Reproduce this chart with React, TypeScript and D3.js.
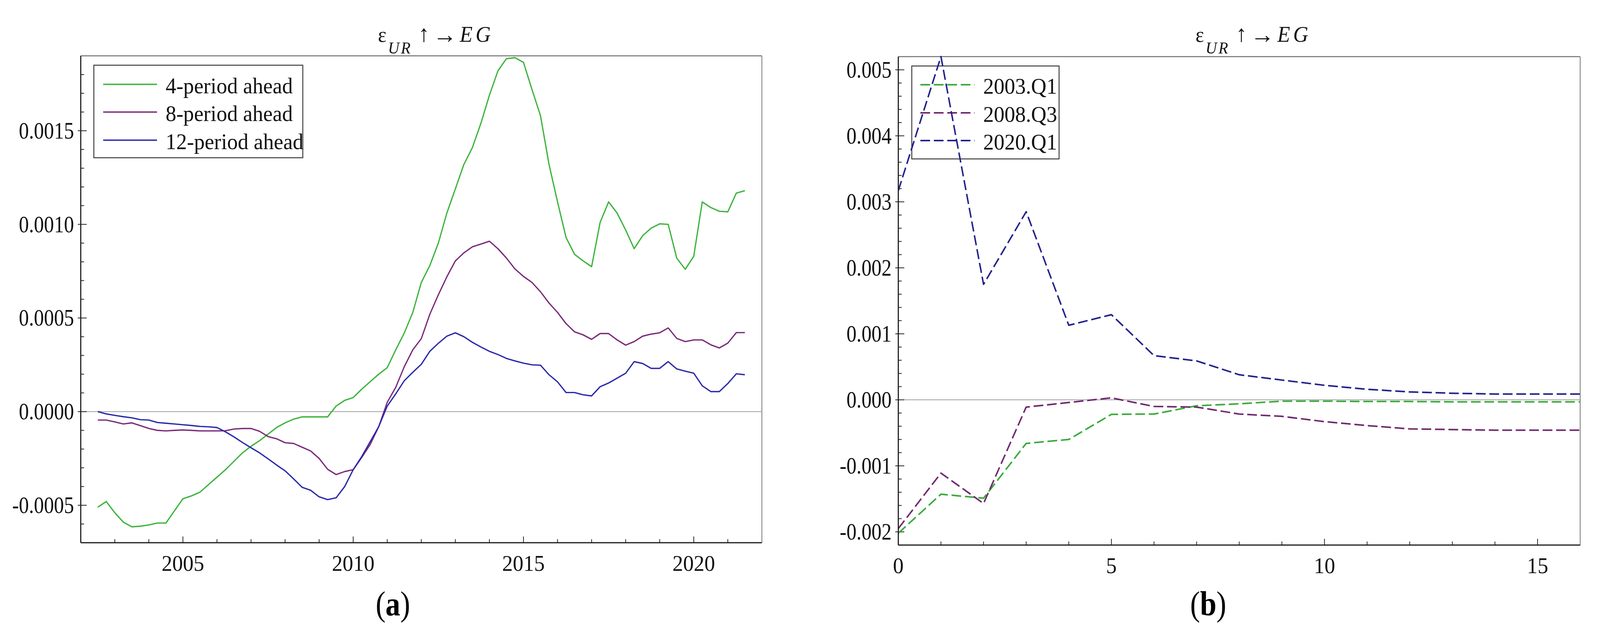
import React from 'react';
import * as d3 from 'd3';

// ---------- Panel (a) data: quarterly, 2002Q3 .. 2021Q3 ----------
const quarters: number[] = d3.range(0, 77).map((i) => 2002.5 + i * 0.25);

const ahead4: number[] = [
  -0.00051, -0.00048,
  -0.00054, -0.00059, -0.000615, -0.000612,
  -0.000605, -0.000595, -0.000595, -0.00053,
  -0.000465, -0.00045, -0.00043, -0.00039,
  -0.00035, -0.00031, -0.000265, -0.00022,
  -0.000185, -0.000155, -0.00012, -0.000085,
  -0.00006, -0.00004, -0.000028, -0.000028,
  -0.000028, -0.000028, 0.00003, 0.00006,
  0.000075, 0.00012, 0.00016, 0.0002,
  0.000235, 0.00033, 0.00042, 0.00053,
  0.00069, 0.00078, 0.0009, 0.00106,
  0.00119, 0.00132, 0.00141, 0.00154,
  0.00169, 0.00182, 0.001885, 0.00189,
  0.001865, 0.00172, 0.00158, 0.00132,
  0.00112, 0.00093, 0.00084, 0.000805,
  0.000774, 0.00101, 0.00112, 0.00106,
  0.00097, 0.00087, 0.00094, 0.00098,
  0.001003, 0.001, 0.00082, 0.00076,
  0.00083, 0.00112, 0.00109, 0.00107,
  0.001067, 0.001167, 0.00118,
];

const ahead8: number[] = [
  -0.000045, -0.000045,
  -0.000055, -0.000066, -0.00006, -0.000075,
  -0.00009, -0.0001, -0.000103, -0.0001,
  -0.000098, -0.0001, -0.000103, -0.000103,
  -0.000103, -0.000102, -0.000093, -0.00009,
  -0.00009, -0.000105, -0.000133, -0.000145,
  -0.000166, -0.00017, -0.00019, -0.00021,
  -0.00025, -0.000308, -0.000336, -0.00032,
  -0.00031, -0.000245, -0.000175, -0.00008,
  0.00005, 0.00013, 0.00024, 0.00033,
  0.00039, 0.00052, 0.000624, 0.00072,
  0.000805, 0.000848, 0.00088, 0.000895,
  0.00091, 0.00087, 0.00082, 0.000762,
  0.000722, 0.00069, 0.00064, 0.00058,
  0.00053, 0.00047, 0.000426, 0.00041,
  0.000386, 0.000417, 0.000417, 0.000383,
  0.000355, 0.000374, 0.000403, 0.000414,
  0.000421, 0.000447, 0.000391, 0.000374,
  0.000383, 0.000383, 0.000357, 0.00034,
  0.000366, 0.000422, 0.000422,
];

const ahead12: number[] = [
  0.0, -0.000012,
  -0.00002, -0.000027, -0.000033, -0.000043,
  -0.000045, -0.000058, -0.000062, -0.000066,
  -0.00007, -0.000074, -0.000079, -0.000081,
  -0.000085, -0.000108, -0.000135, -0.000165,
  -0.000193, -0.00022, -0.000252, -0.000285,
  -0.000316, -0.000359, -0.000404, -0.00042,
  -0.000455, -0.00047, -0.00046, -0.0004,
  -0.00031, -0.00024, -0.00016, -0.00008,
  0.00003, 0.000095, 0.000165, 0.00021,
  0.000253, 0.000322, 0.000365, 0.000403,
  0.000421, 0.0004, 0.00037, 0.000345,
  0.000322, 0.000305, 0.000284, 0.000271,
  0.000259, 0.00025, 0.000248, 0.000197,
  0.000159, 0.000102, 0.000102, 0.00009,
  0.000084, 0.000133, 0.000153, 0.000179,
  0.000205, 0.000267, 0.000257, 0.000231,
  0.000231, 0.000267, 0.000228, 0.000216,
  0.000205, 0.000138, 0.000107, 0.000107,
  0.00015, 0.000202, 0.000197,
];

const leftNames = ['4-period ahead', '8-period ahead', '12-period ahead'];
const leftColors = ['#3cb43c', '#7a2c78', '#2a2aaa'];
const leftXMajor = [2005, 2010, 2015, 2020];
const leftYMajor = [-0.0005, 0.0, 0.0005, 0.001, 0.0015];
const leftYLabels = ['-0.0005', '0.0000', '0.0005', '0.0010', '0.0015'];

// ---------- Panel (b) data: impulse responses, horizons 0..16 ----------
const horizons: number[] = d3.range(0, 17);
const irf2003Q1: number[] = [
  -0.00202, -0.00143, -0.00149, -0.00066, -0.0006, -0.00022, -0.000215, -0.00009,
  -0.00006, -0.00002, -0.00002, -0.000025, -0.000025, -0.00003, -0.00003, -0.00003, -0.00003,
];
const irf2008Q3: number[] = [
  -0.00195, -0.00111, -0.00157, -0.00011, -0.00004, 0.00003, -0.0001, -0.00011,
  -0.000215, -0.00025, -0.00033, -0.00039, -0.00044, -0.00045, -0.00046, -0.00046, -0.00046,
];
const irf2020Q1: number[] = [
  0.00317, 0.0052, 0.00175, 0.00285, 0.00113, 0.00129, 0.00067, 0.00059,
  0.00038, 0.0003, 0.00022, 0.00016, 0.00012, 0.0001, 0.000088, 0.000088, 0.000088,
];
const rightNames = ['2003.Q1', '2008.Q3', '2020.Q1'];
const rightColors = ['#3aaa3a', '#702a6e', '#22228c'];
const rightXMajor = [0, 5, 10, 15];
const rightYMajor = [-0.002, -0.001, 0.0, 0.001, 0.002, 0.003, 0.004, 0.005];
const rightYLabels = ['-0.002', '-0.001', '0.000', '0.001', '0.002', '0.003', '0.004', '0.005'];

const FONT = "'Liberation Serif', 'Times New Roman', serif";

type PanelProps = {
  x0: number; x1: number; y0: number; y1: number;
  xDomain: [number, number]; yDomain: [number, number];
  xs: number[]; series: number[][]; colors: string[]; names: string[];
  dashed: boolean;
  xMajor: number[]; xMinorStep: number;
  yMajor: number[]; yLabels: string[]; yMinorStep: number;
  legend: { x: number; y: number; w: number; h: number; lineX0: number; lineX1: number; textX: number; rows: number[] };
  letter: string; letterX: number;
  legendBelowLines: boolean;
};

function Title({ x0 }: { x0: number }) {
  return (
    <g fontFamily={FONT} fill="#111">
      <text x={x0 + 795} y={107} fontSize={54}>ε</text>
      <text x={x0 + 822} y={137} fontSize={42} fontStyle="italic" letterSpacing={4}>UR</text>
      <text x={x0 + 903} y={106} fontSize={60}>↑</text>
      <text x={x0 + 942} y={110} fontSize={64}>→</text>
      <text x={x0 + 1014} y={107} fontSize={56} fontStyle="italic" letterSpacing={8}>EG</text>
    </g>
  );
}

function Panel(p: PanelProps) {
  const x = d3.scaleLinear().domain(p.xDomain).range([p.x0, p.x1]);
  const y = d3.scaleLinear().domain(p.yDomain).range([p.y1, p.y0]);
  const line = d3.line<[number, number]>().x((d) => x(d[0])).y((d) => y(d[1]));

  const xMinor = d3.range(Math.ceil(p.xDomain[0]), p.xDomain[1] + 1e-9, p.xMinorStep)
    .filter((v) => !p.xMajor.includes(v) && v > p.xDomain[0] && v < p.xDomain[1]);
  const yMinor = d3.range(-50, 60).map((i) => i * p.yMinorStep)
    .filter((v) => v > p.yDomain[0] && v < p.yDomain[1])
    .filter((v) => !p.yMajor.some((m) => Math.abs(m - v) < 1e-9));

  const clipId = `clip-${p.letter}`;
  const dash = p.dashed ? '26 10' : undefined;

  const legendEl = (
    <g>
      <rect x={p.legend.x} y={p.legend.y} width={p.legend.w} height={p.legend.h}
        fill="#fff" stroke="#3a3a3a" strokeWidth={2.5} />
      {p.names.map((n, i) => (
        <g key={n}>
          <line x1={p.legend.lineX0} x2={p.legend.lineX1} y1={p.legend.rows[i]} y2={p.legend.rows[i]}
            stroke={p.colors[i]} strokeWidth={p.dashed ? 4 : 3.5} strokeDasharray={dash} />
          <text x={p.legend.textX} y={p.legend.rows[i] + 23} fontSize={57} fontFamily={FONT} fill="#111">{n}</text>
        </g>
      ))}
    </g>
  );

  const linesEl = (
    <g clipPath={`url(#${clipId})`}>
      {p.series.map((s, i) => (
        <path key={i}
          d={line(p.xs.map((xv, j) => [xv, s[j]] as [number, number])) || ''}
          fill="none" stroke={p.colors[i]} strokeWidth={p.dashed ? 4 : 3.4}
          strokeDasharray={dash} strokeLinejoin="round" />
      ))}
    </g>
  );

  return (
    <g>
      <defs>
        <clipPath id={clipId}>
          <rect x={p.x0} y={p.y0 - 2} width={p.x1 - p.x0} height={p.y1 - p.y0 + 4} />
        </clipPath>
      </defs>
      <line x1={p.x0} x2={p.x1} y1={p.y0} y2={p.y0} stroke="#6e6e6e" strokeWidth={2.5} />
      <line x1={p.x1} x2={p.x1} y1={p.y0} y2={p.y1} stroke="#8a8a8a" strokeWidth={2.5} />
      <line x1={p.x0} x2={p.x1} y1={y(0)} y2={y(0)} stroke="#a0a0a0" strokeWidth={2} />
      {p.xMajor.map((v) => (
        <line key={`xM${v}`} x1={x(v)} x2={x(v)} y1={p.y1} y2={p.y1 - 16} stroke="#222" strokeWidth={2} />
      ))}
      {xMinor.map((v) => (
        <line key={`xm${v}`} x1={x(v)} x2={x(v)} y1={p.y1} y2={p.y1 - 9} stroke="#222" strokeWidth={2} />
      ))}
      {p.yMajor.map((v) => (
        <line key={`yM${v}`} x1={p.x0 - 8} x2={p.x0 + 16} y1={y(v)} y2={y(v)} stroke="#222" strokeWidth={2} />
      ))}
      {yMinor.map((v) => (
        <line key={`ym${v}`} x1={p.x0} x2={p.x0 + 9} y1={y(v)} y2={y(v)} stroke="#222" strokeWidth={2} />
      ))}
      {p.xMajor.map((v) => (
        <text key={`xl${v}`} x={x(v)} y={p.y1 + 72} fontSize={57} fontFamily={FONT}
          textAnchor="middle" fill="#111">{String(v)}</text>
      ))}
      {p.yMajor.map((v, i) => (
        <text key={`yl${v}`} transform={`translate(${p.x0 - 18},${y(v) + 20}) scale(0.88,1)`}
          fontSize={61} fontFamily={FONT} textAnchor="end" fill="#111">{p.yLabels[i]}</text>
      ))}
      {p.legendBelowLines ? legendEl : null}
      {linesEl}
      {p.legendBelowLines ? null : legendEl}
      <line x1={p.x0} x2={p.x0} y1={p.y0} y2={p.y1} stroke="#1a1a1a" strokeWidth={3} />
      <line x1={p.x0} x2={p.x1} y1={p.y1} y2={p.y1} stroke="#1a1a1a" strokeWidth={3} />
      <Title x0={p.x0} />
      <text transform={`translate(${p.letterX},1576) scale(0.9,1)`} fontSize={88} fontFamily={FONT}
        textAnchor="middle" fill="#000">
        (<tspan fontWeight="bold">{p.letter}</tspan>)
      </text>
    </g>
  );
}

export default function App() {
  return (
    <div style={{ position: 'fixed', left: 0, top: 0, width: '100vw', height: '100vh', overflow: 'hidden', background: '#fff' }}>
      <style>{'html,body{margin:0;padding:0;overflow:hidden;background:#fff;}'}</style>
      <svg width="100%" height="100%" viewBox="0 0 4280 1611" preserveAspectRatio="none"
        xmlns="http://www.w3.org/2000/svg" style={{ display: 'block' }}>
        <rect x={0} y={0} width={4280} height={1611} fill="#fff" />
        <Panel
          x0={216} x1={2038} y0={143} y1={1390}
          xDomain={[2002, 2022]} yDomain={[-0.0007, 0.0019]}
          xs={quarters} series={[ahead4, ahead8, ahead12]} colors={leftColors} names={leftNames}
          dashed={false}
          xMajor={leftXMajor} xMinorStep={1}
          yMajor={leftYMajor} yLabels={leftYLabels} yMinorStep={0.0001}
          legend={{ x: 251, y: 167, w: 559, h: 237, lineX0: 276, lineX1: 420, textX: 443, rows: [216, 287, 359] }}
          letter="a" letterX={1051}
          legendBelowLines={false}
        />
        <Panel
          x0={2403} x1={4227} y0={145} y1={1396}
          xDomain={[0, 16]} yDomain={[-0.0022, 0.0052]}
          xs={horizons} series={[irf2003Q1, irf2008Q3, irf2020Q1]} colors={rightColors} names={rightNames}
          dashed={true}
          xMajor={rightXMajor} xMinorStep={1}
          yMajor={rightYMajor} yLabels={rightYLabels} yMinorStep={0.0002}
          legend={{ x: 2439, y: 169, w: 394, h: 238, lineX0: 2462, lineX1: 2607, textX: 2630, rows: [217, 289, 360] }}
          letter="b" letterX={3232}
          legendBelowLines={true}
        />
      </svg>
    </div>
  );
}
